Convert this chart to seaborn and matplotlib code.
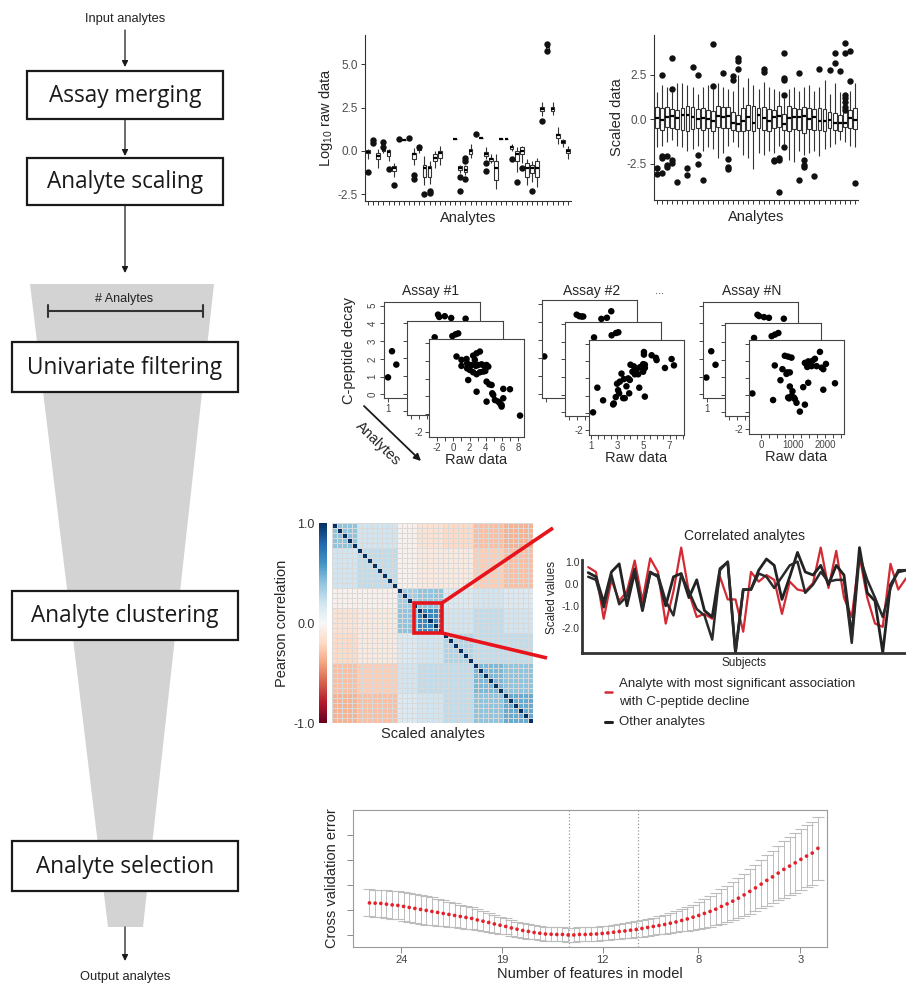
import numpy as np
import pandas as pd
import matplotlib
matplotlib.use("Agg")
import matplotlib.pyplot as plt
import seaborn as sns
from matplotlib.patches import Rectangle, Polygon

nan = np.nan
# ---------------- data ----------------
analytes = [f"A{i + 1:02d}" for i in range(40)]

# log10 raw data: five-number summaries per analyte (NaN = not measured)
raw_med = [-0.05, 0.5, -0.3, 0.05, -0.05, -1.0, 0.7, 0.65, 0.72, -0.2, 0.1, -1.0, -1.0, -0.4, -0.15, nan, nan, 0.67, -1.0, -1.1,
           0.0, 0.95, 0.75, -0.2, -0.5, -1.0, 0.7, 0.7, 0.2, -0.2, 0.0, -1.0, -1.0, -1.0, 2.4, 6.0, 2.4, 0.9, 0.5, 0.0]
raw_q1 = [-0.15, 0.4, -0.5, 0.0, -0.3, -1.15, 0.7, 0.65, 0.72, -0.5, 0.05, -1.5, -1.5, -0.6, -0.4, nan, nan, 0.67, -1.1, -1.2,
          -0.2, 0.95, 0.75, -0.3, -0.6, -1.7, 0.7, 0.7, 0.1, -0.6, -0.2, -1.5, -1.3, -1.5, 2.3, 5.9, 2.3, 0.75, 0.45, -0.1]
raw_q3 = [0.05, 0.6, -0.1, 0.15, 0.05, -0.85, 0.7, 0.65, 0.72, -0.1, 0.15, -0.8, -0.85, -0.2, 0.0, nan, nan, 0.67, -0.9, -0.9,
          0.1, 0.95, 0.75, -0.05, -0.4, -0.6, 0.7, 0.7, 0.3, 0.0, 0.2, -0.7, -0.8, -0.6, 2.55, 6.1, 2.55, 1.0, 0.6, 0.1]
raw_lo = [-0.5, 0.35, -1.0, -0.1, -0.6, -1.5, 0.7, 0.65, 0.72, -0.8, -0.1, -2.0, -1.9, -1.0, -0.8, nan, nan, 0.67, -1.3, -1.4,
          -0.4, 0.95, 0.75, -0.5, -0.7, -2.2, 0.7, 0.7, 0.0, -1.2, -0.7, -2.0, -1.8, -2.1, 2.0, 5.85, 2.1, 0.4, 0.2, -0.5]
raw_hi = [0.1, 0.65, 0.1, 0.3, 0.1, -0.7, 0.7, 0.65, 0.72, 0.15, 0.2, -0.3, -0.6, 0.0, 0.3, nan, nan, 0.67, -0.8, -0.8,
          0.4, 0.95, 0.75, 0.2, -0.2, -0.2, 0.7, 0.7, 0.4, 0.2, 0.3, -0.5, -0.6, -0.4, 2.8, 6.15, 2.8, 1.4, 0.7, 0.3]
raw_out_idx = [0, 1, 1, 3, 3, 4, 5, 6, 8, 9, 9, 10, 11, 12, 12, 18, 18, 19, 19, 19, 21, 23, 23, 28, 29, 30, 32, 34, 35, 35]
raw_out_val = [-1.2, 0.45, 0.62, 0.5, 0.25, -1.05, -1.95, 0.7, 0.72, -1.4, -1.6, 0.22, -2.5, -2.3, -2.45, -1.5, -2.3, -0.4,
               -0.6, -1.6, 0.95, -0.7, -1.15, -0.5, -1.8, -1.0, -2.3, 1.7, 5.8, 6.2]

# scaled data: five-number summaries per analyte
sc_med = [0.05, -0.05, 0.1, 0.15, 0.05, 0.2, 0.25, 0.1, 0.0, 0.05, 0.0, -0.1, 0.15, 0.1, 0.15, -0.2, -0.3, -0.1, 0.1, -0.25,
          0.2, 0.05, -0.1, 0.1, 0.15, -0.3, 0.05, 0.1, 0.1, 0.15, 0.0, 0.1, -0.1, -0.1, -0.05, -0.2, -0.25, -0.2, 0.05, -0.05]
sc_q1 = [-0.5, -0.6, -0.45, -0.5, -0.55, -0.6, -0.7, -0.55, -0.5, -0.6, -0.5, -0.65, -0.45, -0.5, -0.5, -0.6, -0.7, -0.65, -0.6, -0.7,
         -0.5, -0.6, -0.7, -0.5, -0.45, -0.6, -0.65, -0.55, -0.6, -0.8, -0.55, -0.6, -0.6, -0.65, -0.5, -0.6, -0.7, -0.45, -0.5, -0.55]
sc_q3 = [0.7, 0.6, 0.65, 0.55, 0.5, 0.6, 0.75, 0.65, 0.55, 0.6, 0.5, 0.45, 0.75, 0.7, 0.65, 0.4, 0.2, 0.6, 0.8, 0.75,
         0.6, 0.7, 0.55, 0.5, 0.75, 0.3, 0.75, 0.6, 0.55, 0.7, 0.6, 0.55, 0.6, 0.55, 0.4, 0.35, 0.2, 0.4, 0.5, 0.6]
sc_lo = [-1.6, -1.5, -1.3, -1.2, -1.5, -1.6, -1.8, -1.7, -1.5, -1.8, -1.6, -1.7, -2.2, -1.9, -1.5, -1.3, -1.6, -2.0, -2.2, -2.8,
         -1.9, -2.0, -1.8, -1.9, -1.5, -1.4, -2.3, -2.4, -1.8, -2.0, -1.9, -1.8, -2.1, -1.7, -1.6, -1.4, -1.2, -1.3, -1.5, -1.6]
sc_hi = [1.5, 1.9, 1.8, 1.5, 2.0, 2.0, 1.9, 1.8, 1.4, 1.8, 1.9, 1.7, 2.0, 1.8, 1.7, 1.6, 2.5, 1.8, 2.3, 1.9,
         1.7, 2.1, 1.8, 1.7, 1.6, 1.2, 1.7, 1.8, 1.6, 1.8, 1.9, 1.6, 1.8, 2.2, 1.4, 2.0, 1.5, 0.45, 1.6, 2.0]
sc_out_idx = [0, 0, 1, 1, 1, 1, 2, 2, 2, 3, 3, 3, 3, 4, 6, 6, 7, 8, 8, 8, 9, 11, 11, 13, 14, 14, 14, 15, 15, 16, 16, 16,
              21, 21, 23, 23, 24, 24, 24, 25, 25, 25, 25, 25, 28, 28, 29, 29, 29, 31, 32, 34, 35, 35, 36,
              37, 37, 37, 37, 37, 37, 37, 38, 38, 39]
sc_out_val = [-2.77, -3.09, 2.5, -2.08, -2.17, -3.05, -2.08, -2.58, -2.68, 3.4, 1.7, -2.3, -2.45, -3.52, -2.73, -3.15, 2.94,
              2.5, -2.0, -2.55, -3.43, 4.2, 1.85, 2.57, -2.27, -2.68, -2.83, 2.42, 2.19, 3.4, 3.26, 2.79,
              2.79, 2.66, -2.3, -2.36, -2.2, -2.3, -4.12, 3.73, 2.28, 2.19, 1.35, -1.59, 2.6, -3.43, -2.3, -2.58, -2.68,
              -3.18, 2.81, 2.75, 3.69, 3.13, 2.7, 4.29, 3.73, 1.35, 1.16, 0.97, 0.69, 0.5, 3.82, 2.15, -3.61]

# univariate filtering scatter panels (front panel = full data, back/middle = visible fragments)
g1_x = [0.39, 1.0, 1.62, 1.0, 1.70, 2.44, 2.86, 3.27, 2.65, 2.24, 2.77, 3.06, 3.47, 3.76, 4.09, 4.30, 1.70, 2.03, 2.44, 2.86,
        3.27, 3.68, 3.93, 1.83, 2.86, 4.09, 4.42, 4.71, 4.91, 4.79, 4.09, 5.12, 5.53, 5.74, 5.94, 6.15, 6.97, 5.94, 8.21, 6.15]
g1_y = [2.25, 2.06, 2.11, 1.72, 1.87, 2.30, 2.43, 2.53, 2.06, 1.77, 1.72, 1.77, 1.81, 1.74, 1.77, 1.68, 1.58, 1.49, 1.36, 1.25,
        1.36, 1.40, 1.43, 0.92, 0.26, 0.83, 0.68, 0.64, 0.08, 0.17, -0.30, -0.21, -0.30, -0.40, -0.49, 0.42, 0.40, -0.58, -1.09, -0.11]
g2_x = [1.13, 1.46, 1.90, 2.67, 2.72, 2.87, 2.97, 3.05, 3.13, 3.18, 3.31, 3.44, 3.56, 3.49, 3.69, 3.82, 3.90, 4.00, 4.15, 4.26,
        4.33, 4.46, 4.59, 4.72, 4.85, 4.97, 4.97, 5.10, 5.03, 5.03, 5.10, 5.10, 4.67, 5.62, 5.95, 6.00, 6.64, 7.15, 7.33, 3.95]
g2_y = [-0.98, 0.46, -0.28, -0.52, -0.46, -0.09, 0.69, 0.31, 0.13, 0.81, 1.28, -0.15, -0.15, 0.96, 0.54, 1.00, 0.13, 1.80, 1.39, 1.70,
        1.24, 1.52, 1.24, 1.65, 1.70, 1.39, 1.83, 1.80, 2.39, 2.54, 1.61, -0.06, 0.46, 2.35, 2.20, 2.07, 1.61, 2.13, 1.76, 0.91]
gN_x = [-284, 368, 421, 600, 663, 737, 790, 811, 842, 895, 947, 895, 874, 842, 947, 979, 1021, 1053, 1105, 1211,
        1316, 1369, 1369, 1421, 1443, 1474, 1527, 1579, 1611, 1685, 1737, 1843, 1895, 1948, 1948, 2032, 2316, 1474]
gN_y = [0.09, -0.30, 1.74, 0.87, 1.52, 2.31, 1.24, 1.33, 2.26, 1.33, 2.20, 0.50, -0.20, -0.15, -0.06, 0.22, -0.15, -0.24, -0.46, -0.98,
        0.46, -0.57, 1.89, 1.80, 1.65, 1.98, 1.80, 1.70, 2.02, 2.13, 1.70, 2.54, 1.61, 1.52, 0.31, 1.83, 0.69, 0.72]
g1_back_x = [1.0, 1.5, 2.04, 7.25, 7.4, 8.1, 8.9, 10.7]
g1_back_y = [0.96, 2.43, 1.68, 4.49, 4.36, 4.4, 4.3, 4.26]
g1_mid_x = [3.96, 6.17, 6.58, 6.9]
g1_mid_y = [3.18, 3.25, 3.35, 3.4]
g2_back_x = [0.79, 4.88, 5.21, 5.5, 5.71, 8.0, 8.7, 9.25]
g2_back_y = [2.09, 4.39, 4.31, 4.29, 4.29, 4.16, 4.22, 4.58]
g2_mid_x = [4.13, 6.33, 6.88, 7.17]
g2_mid_y = [3.23, 3.35, 3.48, 3.52]
gN_back_x = [0.92, 1.54, 2.08, 7.38, 7.58, 8.21, 8.83, 10.71]
gN_back_y = [0.95, 2.43, 1.67, 4.48, 4.41, 4.35, 4.31, 4.26]
gN_mid_x = [4.13, 6.33, 6.75, 7.17]
gN_mid_y = [3.25, 3.35, 3.44, 3.53]

# correlation heatmap: cluster sizes and cluster-level Pearson correlations
clust_sizes = [5, 8, 4, 5, 6, 6, 6]
clust_corr = [[0.40, 0.20, -0.05, -0.15, -0.20, -0.30, -0.35],
              [0.20, 0.25, -0.05, -0.10, -0.10, -0.25, -0.30],
              [-0.05, -0.05, 0.35, 0.40, 0.15, 0.20, 0.15],
              [-0.15, -0.10, 0.40, 0.65, 0.20, 0.25, 0.20],
              [-0.20, -0.10, 0.15, 0.20, 0.30, 0.25, 0.25],
              [-0.30, -0.25, 0.20, 0.25, 0.25, 0.45, 0.40],
              [-0.35, -0.30, 0.15, 0.20, 0.25, 0.40, 0.50]]

# correlated analytes across subjects
red_vals = [0.76, 0.54, -1.59, 0.18, -0.78, -0.34, 1.06, -0.78, 1.16, 0.54, -1.81, -0.34, 1.65, -0.41, -1.51, -1.37, -1.59,
            0.32, -0.71, -0.71, -2.18, 0.54, 0.10, 0.40, 0.18, -1.37, 0.10, -0.26, -0.34, 0.03, 1.65, -0.19, 1.50, -0.63,
            -1.51, 1.28, -0.63, -1.81, -1.96, 0.91, -0.26, 0.25]
black1_vals = [0.51, 0.32, -0.85, 0.54, 0.91, -1.0, 0.54, -1.22, 0.54, 0.32, -1.0, 0.32, 0.47, -0.63, 0.18, -1.22, -1.51,
               0.69, 0.99, -3.13, -0.26, -0.26, 0.62, 1.13, 0.84, -0.71, 0.32, 1.43, 0.54, 0.40, 0.84, -0.04, 0.84, 0.40,
               -2.40, 1.65, -0.41, -0.78, -3.13, -0.04, 0.54, 0.62]
black2_vals = [0.32, 0.18, -1.07, 0.40, -0.93, -0.56, 0.69, -1.15, 0.47, 0.40, -0.78, -1.44, 0.40, -0.34, -1.15, -1.44, -2.54,
               0.62, 1.01, -3.13, -0.26, -0.26, 0.47, 0.32, -0.19, 0.32, 0.84, 1.01, -0.41, -0.04, 0.54, 0.10, 0.18, 0.18,
               -2.69, 1.28, 0.18, -0.63, -1.51, -0.19, 0.62, 0.62]

# cross validation curve (80 lambda steps)
cv_mean = [1.129, 1.128, 1.127, 1.124, 1.121, 1.119, 1.115, 1.111, 1.107, 1.103,
           1.099, 1.095, 1.091, 1.087, 1.083, 1.079, 1.075, 1.071, 1.067, 1.061,
           1.056, 1.051, 1.045, 1.040, 1.035, 1.029, 1.024, 1.019, 1.015, 1.011,
           1.008, 1.005, 1.004, 1.003, 1.003, 1.001, 1.001, 1.003, 1.003, 1.004,
           1.005, 1.007, 1.009, 1.012, 1.015, 1.017, 1.020, 1.023, 1.027, 1.031,
           1.035, 1.039, 1.043, 1.048, 1.053, 1.059, 1.065, 1.072, 1.079, 1.087,
           1.095, 1.104, 1.115, 1.125, 1.136, 1.148, 1.161, 1.175, 1.189, 1.204,
           1.219, 1.233, 1.248, 1.263, 1.276, 1.289, 1.303, 1.316, 1.328, 1.347]
cv_sd = [0.054, 0.054, 0.055, 0.055, 0.056, 0.056, 0.057, 0.057, 0.058, 0.058,
         0.057, 0.056, 0.054, 0.052, 0.050, 0.048, 0.046, 0.045, 0.044, 0.042,
         0.040, 0.038, 0.036, 0.034, 0.032, 0.031, 0.030, 0.029, 0.029, 0.028,
         0.028, 0.028, 0.028, 0.028, 0.028, 0.028, 0.028, 0.028, 0.028, 0.028,
         0.028, 0.028, 0.028, 0.029, 0.029, 0.030, 0.031, 0.032, 0.033, 0.034,
         0.035, 0.036, 0.038, 0.040, 0.042, 0.044, 0.047, 0.050, 0.053, 0.057,
         0.061, 0.065, 0.069, 0.073, 0.077, 0.081, 0.085, 0.089, 0.093, 0.097,
         0.101, 0.105, 0.109, 0.113, 0.116, 0.119, 0.122, 0.124, 0.126, 0.127]
cv_tick_pos = [5.6, 23.4, 41.1, 57.9, 75.9]
cv_tick_labels = ["24", "19", "12", "8", "3"]
cv_vlines = [35.2, 47.35]

# ---------------- style ----------------
sns.set_style("ticks")
plt.rcParams["font.family"] = ["Liberation Sans", "DejaVu Sans"]
plt.rcParams["mathtext.default"] = "regular"
BOXFONT = ["Open Sans", "DejaVu Sans"]
TICKC = "#4d4d4d"

W, H = 906, 986
fig = plt.figure(figsize=(W / 100, H / 100), dpi=100)


def ax_px(l, t, r, b):
    return fig.add_axes([l / W, 1 - b / H, (r - l) / W, (b - t) / H])


def five_frame(lo, q1, med, q3, hi):
    rows = []
    for n, a, b, c, d, e in zip(analytes, lo, q1, med, q3, hi):
        for v in (a, b, c, d, e):
            rows.append((n, v))
    return pd.DataFrame(rows, columns=["analyte", "value"])


def box_panel(ax, df, out_idx, out_val, ylim, yticks, ylabel):
    sns.boxplot(data=df, x="analyte", y="value", order=analytes, ax=ax, whis=(0, 100),
                showcaps=False, showfliers=False, width=0.75, color="white",
                linecolor="#333333", linewidth=0.8,
                medianprops=dict(color="black", linewidth=1.6))
    sns.stripplot(x=[analytes[i] for i in out_idx], y=out_val, order=analytes, jitter=False,
                  color="#111111", size=4.6, ax=ax, zorder=4)
    ax.set_xlim(-0.6, 39.6)
    ax.set_ylim(*ylim)
    ax.set_xticks(range(40))
    ax.set_xticklabels([])
    ax.set_yticks(yticks)
    ax.set_yticklabels([f"{v:.1f}" for v in yticks])
    ax.tick_params(axis="both", length=3, width=0.7, color="#333333", labelsize=8.5,
                   labelcolor=TICKC, pad=2)
    ax.set_xlabel("Analytes", fontsize=10.5, labelpad=2)
    ax.set_ylabel(ylabel, fontsize=10.5, labelpad=2)
    sns.despine(ax=ax)
    for s in ("left", "bottom"):
        ax.spines[s].set_color("#333333")
        ax.spines[s].set_linewidth(0.8)


# ---- panel: log10 raw data ----
p1 = ax_px(365, 35, 571, 201)
box_panel(p1, five_frame(raw_lo, raw_q1, raw_med, raw_q3, raw_hi), raw_out_idx, raw_out_val,
          (-2.9, 6.7), [-2.5, 0.0, 2.5, 5.0], "Log$_{10}$ raw data")

# ---- panel: scaled data ----
p2 = ax_px(654, 35, 858, 200)
box_panel(p2, five_frame(sc_lo, sc_q1, sc_med, sc_q3, sc_hi), sc_out_idx, sc_out_val,
          (-4.55, 4.72), [-2.5, 0.0, 2.5], "Scaled data")


# ---- scatter stacks ----
def style_frame(ax):
    ax.set_facecolor("white")
    for s in ax.spines.values():
        s.set_visible(True)
        s.set_color("#444444")
        s.set_linewidth(0.8)
    ax.tick_params(axis="both", direction="out", length=3, width=0.7, color="#444444",
                   labelsize=7, labelcolor="#444444", pad=1.5)
    ax.set_xlabel("")
    ax.set_ylabel("")


def dots(ax, x, y):
    sns.scatterplot(x=x, y=y, ax=ax, color="black", s=22, edgecolor="none", legend=False)


stacks = [
    dict(back=(384, 302, 480, 398), mid=(407, 321, 503, 415), front=(429, 339, 524, 437),
         bx=g1_back_x, by=g1_back_y, mx=g1_mid_x, my=g1_mid_y, fx=g1_x, fy=g1_y,
         xlim=(-3.0, 8.7), xticks=list(range(-2, 9)), xlab=lambda v: f"{v:d}" if v % 2 == 0 else "",
         back_ylab=True, back_xlab="1"),
    dict(back=(542, 300, 637, 398), mid=(565, 322, 661, 416), front=(589, 340, 684, 435),
         bx=g2_back_x, by=g2_back_y, mx=g2_mid_x, my=g2_mid_y, fx=g2_x, fy=g2_y,
         xlim=(0.82, 8.1), xticks=list(np.arange(1.0, 8.01, 0.5)),
         xlab=lambda v: f"{int(v)}" if (v == int(v) and int(v) % 2 == 1) else "",
         back_ylab=False, back_xlab=""),
    dict(back=(703, 302, 798, 398), mid=(725, 323, 821, 416), front=(749, 340, 844, 434),
         bx=gN_back_x, by=gN_back_y, mx=gN_mid_x, my=gN_mid_y, fx=gN_x, fy=gN_y,
         xlim=(-390, 2600), xticks=list(range(0, 2501, 250)),
         xlab=lambda v: f"{v:d}" if v % 1000 == 0 else "",
         back_ylab=False, back_xlab="1"),
]
for st in stacks:
    bk = ax_px(*st["back"])
    dots(bk, st["bx"], st["by"])
    style_frame(bk)
    bk.set_xlim(0.5, 12.5)
    bk.set_ylim(-0.2, 5.2)
    bk.set_yticks(range(6))
    if st["back_ylab"]:
        bk.set_yticklabels([str(v) for v in range(6)], rotation=90, va="center")
    else:
        bk.set_yticklabels([])
    bk.set_xticks([1])
    bk.set_xticklabels([st["back_xlab"]])

    md = ax_px(*st["mid"])
    dots(md, st["mx"], st["my"])
    style_frame(md)
    md.set_xlim(0.5, 12.5)
    md.set_ylim(-1.2, 4.1)
    md.set_yticks(range(-1, 5))
    md.set_yticklabels([])
    md.set_xticks(range(1, 13))
    md.set_xticklabels([])

    fr = ax_px(*st["front"])
    dots(fr, st["fx"], st["fy"])
    style_frame(fr)
    fr.set_xlim(*st["xlim"])
    fr.set_ylim(-2.3, 3.24)
    fr.set_yticks(range(-2, 4))
    fr.set_yticklabels(["-2", "", "", "", "", ""])
    fr.set_xticks(st["xticks"])
    fr.set_xticklabels([st["xlab"](v) for v in st["xticks"]])
    fr.set_xlabel("Raw data", fontsize=10.5, labelpad=0)

# ---- heatmap ----
labels = np.repeat(np.arange(len(clust_sizes)), clust_sizes)
cc = np.array(clust_corr)
corr = cc[labels][:, labels]
np.fill_diagonal(corr, 1.0)
hax = ax_px(332, 523, 533, 723)
cax = ax_px(319, 523, 327, 723)
sns.heatmap(corr, ax=hax, cbar_ax=cax, cmap="RdBu", vmin=-1, vmax=1, linewidths=0.5,
            linecolor="#d9d9d9", xticklabels=False, yticklabels=False,
            cbar_kws=dict(ticks=[-1, 0, 1]))
hax.set_xlabel("Scaled analytes", fontsize=10.5, labelpad=3)
cax.yaxis.set_ticks_position("left")
cax.yaxis.set_label_position("left")
cax.set_yticks([-1, 0, 1])
cax.set_yticklabels(["-1.0", "0.0", "1.0"])
cax.tick_params(length=0, labelsize=9, labelcolor="#333333", pad=3)
cax.set_ylabel("Pearson correlation", fontsize=10.5, labelpad=3)
for s in cax.spines.values():
    s.set_visible(False)
hax.add_patch(Rectangle((16.3, 16), 5.6, 6, fill=False, ec="#e8141c", lw=2.6, zorder=5))

# ---- correlated analytes lines ----
lax = ax_px(582, 541, 906, 653)
subjects = np.arange(len(red_vals))
sns.lineplot(x=subjects, y=red_vals, ax=lax, color="#d42a34", linewidth=1.6)
sns.lineplot(x=subjects, y=black1_vals, ax=lax, color="#222222", linewidth=2.0)
sns.lineplot(x=subjects, y=black2_vals, ax=lax, color="#2a2a2a", linewidth=1.8)
lax.set_xlim(-0.8, 41)
lax.set_ylim(-3.15, 1.95)
lax.set_xticks([])
lax.set_yticks([1.0, 0.0, -1.0, -2.0])
lax.set_yticklabels(["1.0", "0.0", "-1.0", "-2.0"])
lax.tick_params(axis="y", length=0, labelsize=7.5, labelcolor="#333333", pad=2)
lax.set_ylabel("Scaled values", fontsize=8.5, labelpad=2)
lax.set_xlabel("Subjects", fontsize=8.5, labelpad=3)
sns.despine(ax=lax)
lax.spines["left"].set_bounds(-3.15, 1.1)
for s in ("left", "bottom"):
    lax.spines[s].set_color("#333333")
    lax.spines[s].set_linewidth(2.0)
lax.patch.set_alpha(0)

# ---- cross validation ----
cvax = ax_px(353, 810, 827, 947)
steps = np.arange(len(cv_mean))
cvax.errorbar(steps, cv_mean, yerr=cv_sd, fmt="none", ecolor="#bdbdbd", elinewidth=0.7,
              capsize=4.3, capthick=0.8, zorder=2)
sns.scatterplot(x=steps, y=cv_mean, ax=cvax, color="#e3222b", s=7, edgecolor="none", zorder=3, legend=False)
for v in cv_vlines:
    cvax.axvline(v, color="#9a9a9a", ls=":", lw=0.9, zorder=1)
cvax.set_xlim(-2.9, 80.6)
cvax.set_ylim(0.953, 1.5)
cvax.set_xticks(cv_tick_pos)
cvax.set_xticklabels(cv_tick_labels)
cvax.set_yticks([1.0, 1.1, 1.2, 1.3, 1.4])
cvax.set_yticklabels([])
cvax.tick_params(axis="both", length=4, width=0.7, color="#8a8a8a", labelsize=8, labelcolor="#444444", pad=2)
cvax.set_xlabel("Number of features in model", fontsize=10.5, labelpad=1)
cvax.set_ylabel("Cross validation error", fontsize=10.5, labelpad=4)
for s in cvax.spines.values():
    s.set_color("#9a9a9a")
    s.set_linewidth(0.8)

# ---------------- overlay: flowchart & annotations ----------------
ov = fig.add_axes([0, 0, 1, 1])
ov.set_zorder(10)
ov.set_xlim(0, W)
ov.set_ylim(H, 0)
ov.axis("off")
ov.patch.set_alpha(0)

ov.add_patch(Polygon([(30, 284), (214, 284), (143, 927), (108, 927)], closed=True,
                     fc="#d3d3d3", ec="none", zorder=1))
flow_boxes = [("Assay merging", 27, 71, 223, 119), ("Analyte scaling", 27, 158, 223, 205),
              ("Univariate filtering", 12, 342, 238, 392), ("Analyte clustering", 12, 591, 238, 640),
              ("Analyte selection", 12, 841, 238, 891)]
for lab, l, t, r, b in flow_boxes:
    ov.add_patch(Rectangle((l, t), r - l, b - t, fc="white", ec="#1a1a1a", lw=1.6, zorder=2))
    ov.text((l + r) / 2, (t + b) / 2 + 1, lab, ha="center", va="center", fontsize=16.3,
            family=BOXFONT, color="#1a1a1a", zorder=3)

for y0, y1 in [(30, 67), (119, 156), (205, 273), (927, 961)]:
    ov.annotate("", xy=(125, y1), xytext=(125, y0),
                arrowprops=dict(arrowstyle="-|>", color="#1a1a1a", lw=0.9, mutation_scale=9,
                                shrinkA=0, shrinkB=0), zorder=3)
ov.text(125, 19, "Input analytes", ha="center", va="center", fontsize=9.3, color="#222222")
ov.text(125, 977, "Output analytes", ha="center", va="center", fontsize=9.3, color="#222222")
ov.text(124, 299, "# Analytes", ha="center", va="center", fontsize=9, color="#222222", zorder=3)
ov.plot([48, 203], [311, 311], color="#333333", lw=1.5, zorder=3)
ov.plot([48, 48], [305, 317], color="#333333", lw=1.5, zorder=3)
ov.plot([203, 203], [305, 317], color="#333333", lw=1.5, zorder=3)

# scatter stack annotations
ov.text(431, 291, "Assay #1", ha="center", va="center", fontsize=10)
ov.text(592, 291, "Assay #2", ha="center", va="center", fontsize=10)
ov.text(660, 291, "...", ha="center", va="center", fontsize=8, color="#444444")
ov.text(752, 291, "Assay #N", ha="center", va="center", fontsize=10)
ov.text(349, 350, "C-peptide decay", rotation=90, ha="center", va="center", fontsize=10.5)
ov.text(378, 444, "Analytes", rotation=-44, ha="center", va="center", fontsize=10.5)
ov.annotate("", xy=(421, 461), xytext=(364, 406),
            arrowprops=dict(arrowstyle="-|>", color="#1a1a1a", lw=1.3, mutation_scale=10,
                            shrinkA=0, shrinkB=0))

# zoom lines from heatmap box to line chart
ov.plot([442, 553], [603, 528], color="#e8141c", lw=2.6, solid_capstyle="butt")
ov.plot([442, 547], [633, 658], color="#e8141c", lw=2.6, solid_capstyle="butt")
ov.text(745, 536, "Correlated analytes", ha="center", va="center", fontsize=10)

# legend
ov.plot([605, 612], [692, 692], color="#d42a34", lw=1.8)
ov.text(619, 684, "Analyte with most significant association", ha="left", va="center", fontsize=9.5)
ov.text(619, 702, "with C-peptide decline", ha="left", va="center", fontsize=9.5)
ov.plot([605, 612], [722, 722], color="#222222", lw=2.2)
ov.text(619, 722, "Other analytes", ha="left", va="center", fontsize=9.5)

fig.savefig("out.png", dpi=100, facecolor="white")
